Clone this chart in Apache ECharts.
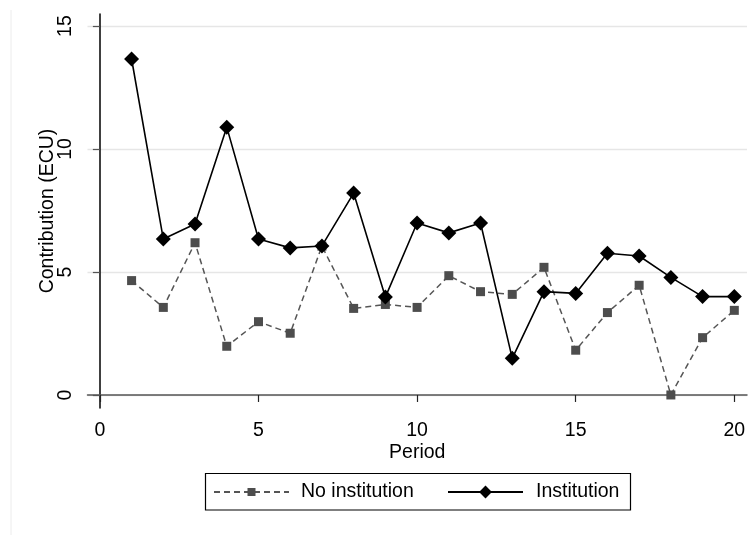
<!DOCTYPE html>
<html>
<head>
<meta charset="utf-8">
<script src="https://cdn.jsdelivr.net/npm/echarts@6/dist/echarts.min.js"></script>
<style>
  html, body { margin: 0; padding: 0; background: #fff; }
  #chart { width: 755px; height: 535px; }
</style>
</head>
<body>
<div id="chart"></div>
<script>
// Average contribution per period, by treatment
const periods = [1, 2, 3, 4, 5, 6, 7, 8, 9, 10, 11, 12, 13, 14, 15, 16, 17, 18, 19, 20];
const noInstitution = [4.65, 3.56, 6.19, 1.98, 2.98, 2.51, 6.05, 3.52, 3.68, 3.56,
                       4.85, 4.20, 4.09, 5.19, 1.82, 3.35, 4.46, 0.00, 2.33, 3.44];
const institution = [13.66, 6.34, 6.95, 10.89, 6.34, 5.98, 6.06, 8.21, 3.98, 6.99,
                     6.59, 6.99, 1.49, 4.20, 4.13, 5.76, 5.65, 4.78, 4.00, 4.00];
const xTicks = [0, 5, 10, 15, 20];
const yTicks = [0, 5, 10, 15];

const FONT = 'Arial, "Liberation Sans", Helvetica, sans-serif';
const FS = 19.5;

const pairs = (ys) => periods.map((p, i) => [p, ys[i]]);

const chart = echarts.init(document.getElementById('chart'), null, { renderer: 'canvas' });

chart.setOption({
  animation: false,
  backgroundColor: '#ffffff',
  textStyle: { fontFamily: FONT },
  grid: { left: 87.5, right: 8, top: 14, bottom: 127, containLabel: false },
  xAxis: {
    type: 'value',
    min: -0.39,
    max: 20.4,
    name: 'Period',
    nameLocation: 'middle',
    nameGap: 35,
    nameMoveOverlap: false,
    nameTextStyle: { color: '#000', fontSize: FS, fontFamily: FONT },
    axisLine: { show: true, lineStyle: { color: '#555', width: 1.5 } },
    axisTick: { show: true, length: 7, customValues: xTicks, lineStyle: { color: '#222', width: 1.2 } },
    axisLabel: { customValues: xTicks, color: '#000', fontSize: FS, fontFamily: FONT, margin: 13 },
    splitLine: { show: false }
  },
  yAxis: {
    type: 'value',
    min: -0.53,
    max: 15.49,
    name: 'Contribution (ECU)',
    nameLocation: 'middle',
    nameGap: 30,
    nameRotate: 90,
    nameMoveOverlap: false,
    nameTextStyle: { color: '#000', fontSize: FS, fontFamily: FONT },
    axisLine: { show: true, lineStyle: { color: '#000', width: 1.5 } },
    axisTick: { show: true, length: 7, customValues: yTicks, lineStyle: { color: '#555', width: 1.2 } },
    axisLabel: { customValues: yTicks, rotate: 90, color: '#000', fontSize: FS, fontFamily: FONT, margin: 12 },
    splitLine: { show: true, lineStyle: { color: '#e6e6e6', width: 1.3 } }
  },
  legend: [
    {
      data: ['No institution'],
      left: 213,
      top: 482,
      padding: 0,
      itemWidth: 75,
      itemHeight: 10,
      itemGap: 0,
      textStyle: { color: '#000', fontSize: FS, fontFamily: FONT, padding: [0, 0, 0, 7] }
    },
    {
      data: ['Institution'],
      left: 447,
      top: 482,
      padding: 0,
      itemWidth: 75,
      itemHeight: 16,
      itemGap: 0,
      textStyle: { color: '#000', fontSize: FS, fontFamily: FONT, padding: [0, 0, 0, 8] }
    }
  ],
  graphic: [
    {
      type: 'line',
      silent: true,
      shape: { x1: 11, y1: 10, x2: 11, y2: 535 },
      style: { stroke: '#ececec', lineWidth: 1 }
    },
    {
      type: 'rect',
      silent: true,
      shape: { x: 205.5, y: 473.5, width: 425, height: 36.5 },
      style: { fill: 'none', stroke: '#000', lineWidth: 1.2 }
    }
  ],
  series: [
    {
      name: 'No institution',
      type: 'line',
      data: pairs(noInstitution),
      symbol: 'rect',
      symbolSize: 9,
      showAllSymbol: true,
      itemStyle: { color: '#4d4d4d' },
      lineStyle: { color: '#555', width: 1.5, type: [6, 4] },
      z: 2
    },
    {
      name: 'Institution',
      type: 'line',
      data: pairs(institution),
      symbol: 'diamond',
      symbolSize: 15,
      showAllSymbol: true,
      itemStyle: { color: '#000' },
      lineStyle: { color: '#000', width: 1.6 },
      z: 3
    }
  ]
});
</script>
</body>
</html>
